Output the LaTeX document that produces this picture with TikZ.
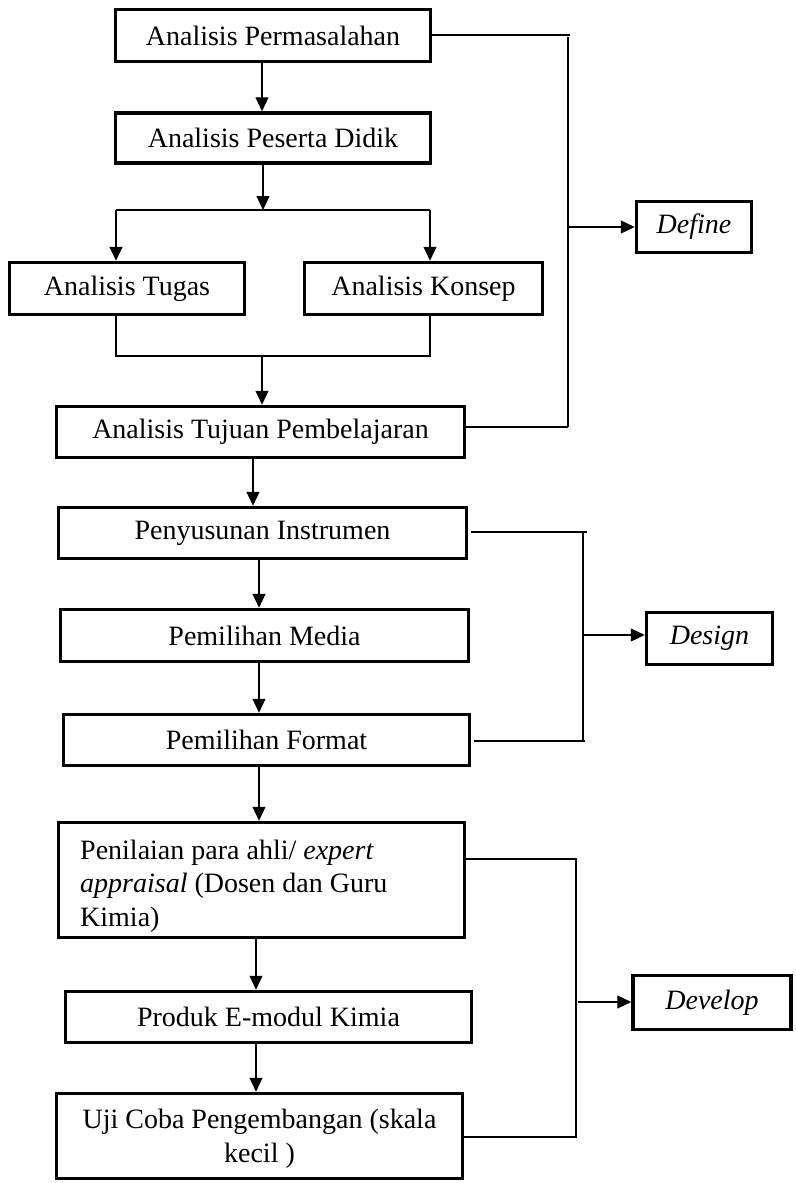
\documentclass[tikz,border=0pt]{standalone}
\usepackage{fontspec}
\setmainfont{Liberation Serif}
\usetikzlibrary{arrows.meta}
\begin{document}
\begin{tikzpicture}[x=1pt,y=-1pt,
  box/.style={draw,line width=3.5pt,inner sep=0pt,align=center,
    font=\fontsize{28}{33}\selectfont},
  txt/.style={inner sep=0pt,font=\fontsize{28}{33.5}\selectfont},
  conn/.style={line width=1.1pt},
  arr/.style={line width=1.1pt,-{Triangle[width=13pt,length=14pt]}}]
\useasboundingbox (0,0) rectangle (795,1183);
% boxes
\node[box,minimum width=315,minimum height=52] (perm) at (273,35.5) {Analisis Permasalahan};
\node[box,minimum width=315,minimum height=50] (pes) at (273,138) {Analisis Peserta Didik};
\node[box,minimum width=235,minimum height=52] (tug) at (127,288.5) {Analisis Tugas};
\node[box,minimum width=238,minimum height=52] (kon) at (423.5,288.5) {Analisis Konsep};
\node[box,minimum width=408,minimum height=51] (tuj) at (260.5,432) {Analisis Tujuan Pembelajaran};
\node[box,minimum width=408,minimum height=51] (ins) at (262.5,533) {Penyusunan Instrumen};
\node[box,minimum width=408,minimum height=52] (med) at (264.5,635.5) {Pemilihan Media};
\node[box,minimum width=406,minimum height=51] (fmt) at (266.5,740) {Pemilihan Format};
\node[box,minimum width=406,minimum height=115] (pen) at (261.5,880) {};
\node[txt,anchor=base west,align=flush left] (pentxt) at (80,926)
  {Penilaian para ahli/ \textit{expert}\\\textit{appraisal} (Dosen dan Guru\\Kimia)};
\node[box,minimum width=406,minimum height=51] (pro) at (268.5,1017) {Produk E-modul Kimia};
\node[box,minimum width=406,minimum height=85] (uji) at (259.5,1136) {};
\node[txt,anchor=base,align=center] (ujitxt) at (259.5,1162)
  {Uji Coba Pengembangan (skala\\kecil )};
\node[box,minimum width=115,minimum height=51] (def) at (694,227) {\textit{Define}};
\node[box,minimum width=126,minimum height=52] (des) at (709.5,638.5) {\textit{Design}};
\node[box,minimum width=158,minimum height=54] (dev) at (712,1002.5) {\textit{Develop}};
% helper coordinates
\coordinate (c1) at (262,0);
\coordinate (c2) at (263,210);
\coordinate (bl) at (116,210);
\coordinate (br) at (430,210);
\coordinate (jl) at (116,356);
\coordinate (jr) at (430,356);
\coordinate (jc) at (262,356);
\coordinate (c3) at (253,0);
\coordinate (c4) at (259,0);
\coordinate (c5) at (256,0);
% main flow
\draw[arr] (perm.south -| c1) -- (pes.north -| c1);
\draw[arr] (pes.south -| c2) -- (c2);
\draw[conn] (bl) -- (br);
\draw[arr] (bl) -- (tug.north -| bl);
\draw[arr] (br) -- (kon.north -| br);
\draw[conn] (tug.south -| jl) -- (jl) -- (jr) -- (kon.south -| jr);
\draw[arr] (jc) -- (tuj.north -| jc);
\draw[arr] (tuj.south -| c3) -- (ins.north -| c3);
\draw[arr] (ins.south -| c4) -- (med.north -| c4);
\draw[arr] (med.south -| c4) -- (fmt.north -| c4);
\draw[arr] (fmt.south -| c4) -- (pen.north -| c4);
\draw[arr] (pen.south -| c5) -- (pro.north -| c5);
\draw[arr] (pro.south -| c5) -- (uji.north -| c5);
% Define bracket
\coordinate (d1) at (568,35);
\coordinate (d2) at (568,427);
\coordinate (d3) at (568,227);
\draw[conn] (perm.east |- d1) -- ([xshift=2]d1);
\draw[conn] ([yshift=-2]d1) -- (d2);
\draw[conn] (tuj.east |- d2) -- (d2);
\draw[arr] (d3) -- (def.west |- d3);
% Design bracket
\coordinate (e1) at (583,532);
\coordinate (e2) at (583,741);
\coordinate (e3) at (583,635);
\draw[conn] ([xshift=3]ins.east |- e1) -- ([xshift=4]e1);
\draw[conn] (e1) -- (e2);
\draw[conn] ([xshift=3]fmt.east |- e2) -- ([xshift=2]e2);
\draw[arr] (e3) -- (des.west |- e3);
% Develop bracket
\coordinate (f1) at (576,859);
\coordinate (f2) at (576,1137);
\coordinate (f3) at (578,1002);
\draw[conn] (pen.east |- f1) -- (f1) -- (f2) -- (uji.east |- f2);
\draw[arr] (f3) -- (dev.west |- f3);
\end{tikzpicture}
\end{document}
